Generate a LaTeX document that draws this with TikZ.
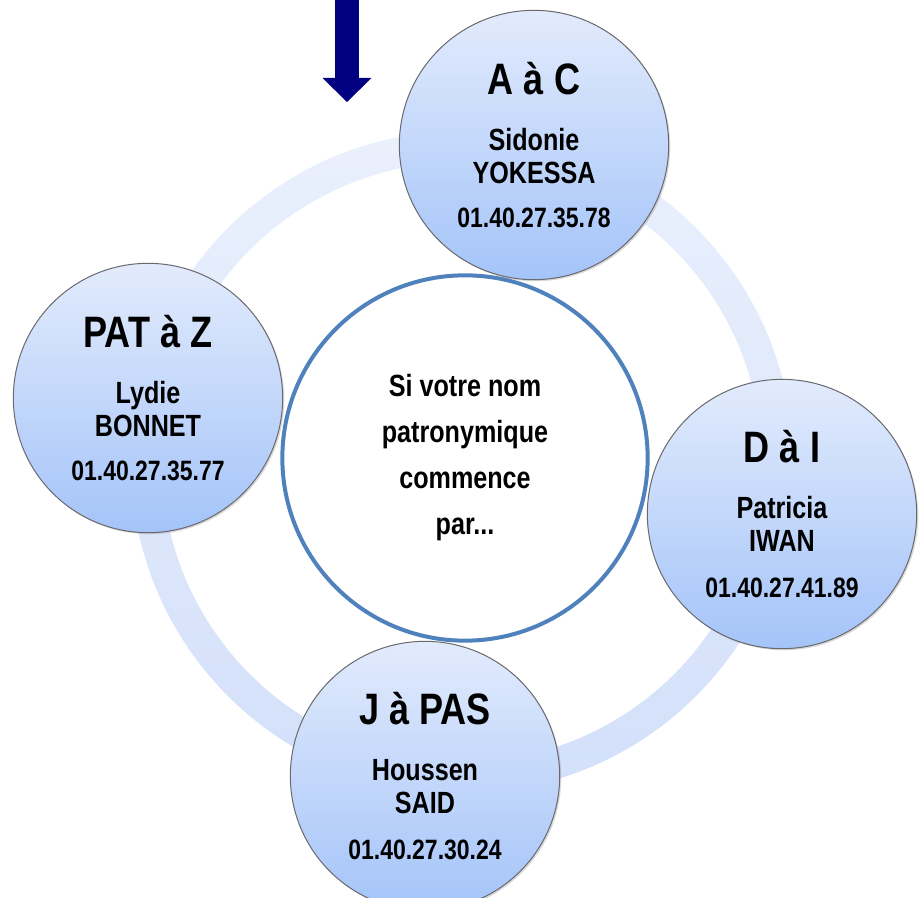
\documentclass[tikz,border=0pt]{standalone}
\usepackage{fontspec}
\setmainfont{Liberation Sans}[FakeStretch=0.82]
\usetikzlibrary{arrows.meta,shadows}

\definecolor{ringtop}{RGB}{234,240,252}
\definecolor{ringbot}{RGB}{211,224,250}
\definecolor{pertop}{RGB}{226,235,252}
\definecolor{perbot}{RGB}{164,196,249}
\definecolor{perline}{RGB}{105,105,110}
\definecolor{hubline}{RGB}{79,129,189}
\definecolor{pointer}{RGB}{0,0,128}

\begin{document}
\begin{tikzpicture}[x=0.75pt,y=-0.75pt, every node/.style={inner sep=0pt, align=center, text=black},
  person/.style={circle, draw=perline, line width=0.75pt, top color=pertop, bottom color=perbot, minimum size=202pt,
    font=\bfseries\fontsize{23}{24.75}\selectfont,
    drop shadow={opacity=0.3, shadow xshift=1.2pt, shadow yshift=-1.2pt}},
  hub/.style={circle, draw=hubline, line width=3pt, fill=white, minimum size=274pt,
    font=\bfseries\fontsize{23}{34.5}\selectfont},
  letters/.style={font=\bfseries\fontsize{33}{36}\selectfont},
  phone/.style={font=\bfseries\fontsize{21}{24}\selectfont}]
\useasboundingbox (0,0) rectangle (923,898);

% ring behind everything
\coordinate (ringc) at (462,462);
\shade[top color=ringtop, bottom color=ringbot, even odd rule] (ringc) circle (331) (ringc) circle (300);

\node[hub] (hub) at (465,458) {Si votre nom\\patronymique\\commence\\par...};

\node[person] (ac) at (534,145) {{\fontsize{33}{36}\selectfont A à C}\\[17.25pt]Sidonie\\YOKESSA\\[8pt]{\fontsize{21}{24}\selectfont 01.40.27.35.78}};
\node[person] (pz) at (148,398) {{\fontsize{33}{36}\selectfont PAT à Z}\\[17.25pt]Lydie\\BONNET\\[8pt]{\fontsize{21}{24}\selectfont 01.40.27.35.77}};
\node[person] (di) at (782,514) {{\fontsize{33}{36}\selectfont D à I}\\[17.25pt]Patricia\\IWAN\\[10pt]{\fontsize{21}{24}\selectfont 01.40.27.41.89}};
\node[person] (jp) at (425,776) {{\fontsize{33}{36}\selectfont J à PAS}\\[17.25pt]Houssen\\SAID\\[10pt]{\fontsize{21}{24}\selectfont 01.40.27.30.24}};

% pointer
\coordinate (ptop) at (347,0);
\coordinate (ptip) at (347,102);
\draw[pointer, line width=18pt, -{Triangle[width=36.75pt,length=18pt,line width=0pt]}] (ptop) -- (ptip);
\end{tikzpicture}
\end{document}
